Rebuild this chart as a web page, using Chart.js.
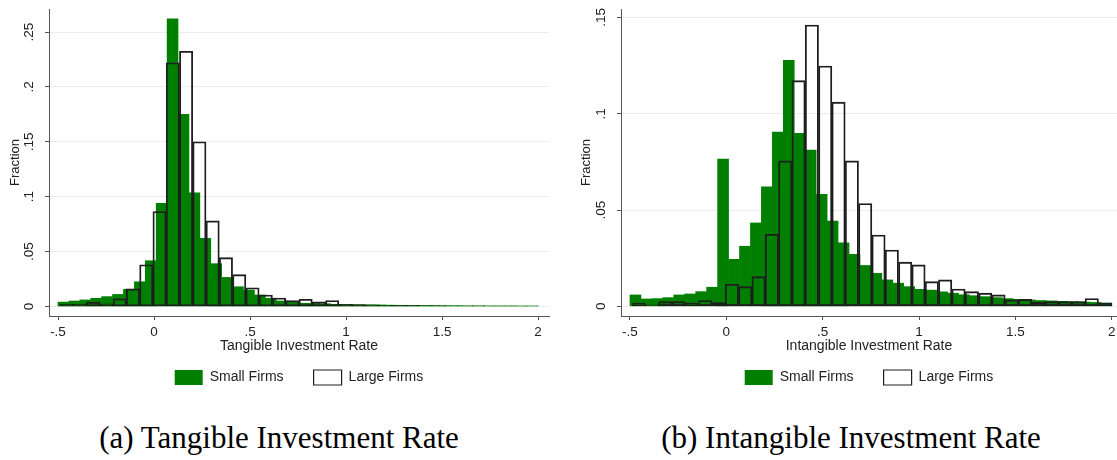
<!DOCTYPE html>
<html>
<head>
<meta charset="utf-8">
<script src="https://cdn.jsdelivr.net/npm/chart.js@4.4.1/dist/chart.umd.min.js"></script>
<style>
  html, body { margin: 0; padding: 0; background: #fff; }
  body { width: 1117px; height: 460px; position: relative; overflow: hidden; }
  canvas { position: absolute; top: 0; }
  #chartA { left: 0; }
  #chartB { left: 571px; }
  .caption {
    position: absolute; top: 422px;
    font-family: "Liberation Serif", serif; font-size: 31px; line-height: 31px;
    color: #000; white-space: nowrap; transform: translateX(-50%);
  }
</style>
</head>
<body>
<canvas id="chartA" width="553" height="395"></canvas>
<canvas id="chartB" width="546" height="395"></canvas>
<div class="caption" style="left:279px">(a) Tangible Investment Rate</div>
<div class="caption" style="left:851px">(b) Intangible Investment Rate</div>

<script>
// series
const seriesNames = ["Small Firms", "Large Firms"];

// histogram bins (each group has its own bins)
const smallBinStart = -0.5, smallBinCount = 44, smallBinWidth = 2.5 / 44;
const largeBinStart = -0.49, largeBinCount = 36, largeBinWidth = 2.49 / 36;

// fractions
const tangibleSmall = [
  0.004, 0.005, 0.006, 0.0075, 0.009, 0.011, 0.0157, 0.0225, 0.0417, 0.094,
  0.262, 0.175, 0.1035, 0.062, 0.039, 0.0265, 0.018, 0.015, 0.0105, 0.0075,
  0.005, 0.0045, 0.003, 0.0028, 0.0025, 0.002, 0.0018, 0.0016, 0.0015, 0.0014,
  0.0012, 0.0011, 0.001, 0.001, 0.0009, 0.0008, 0.0008, 0.0007, 0.0007, 0.0006,
  0.0006, 0.0006, 0.0005, 0.0005
];
const tangibleLarge = [
  0.002, 0.002, 0.004, 0.0025, 0.007, 0.016, 0.038, 0.0865, 0.222, 0.2325,
  0.15, 0.078, 0.0445, 0.029, 0.017, 0.0105, 0.0077, 0.0055, 0.0066, 0.0042,
  0.0054, 0.002, 0.0018, 0.0015, 0.0012, 0.001, 0.001, 0.0008, 0.0008, 0.0006,
  0, 0.0006, 0, 0.0005, 0.0005, 0.0005
];
const intangibleSmall = [
  0.0059, 0.0038, 0.004, 0.0045, 0.0059, 0.0064, 0.0076, 0.0099, 0.0764, 0.0244,
  0.0312, 0.0433, 0.0621, 0.0905, 0.1278, 0.0898, 0.0811, 0.0582, 0.0443, 0.033,
  0.027, 0.0212, 0.0171, 0.0137, 0.012, 0.0102, 0.0088, 0.0084, 0.0075, 0.0068,
  0.006, 0.0055, 0.005, 0.0045, 0.004, 0.0036, 0.0033, 0.003, 0.0028, 0.0026,
  0.0024, 0.0022, 0.002, 0.0017
];
const intangibleLarge = [
  0.0016, 0.0007, 0.0024, 0.0024, 0.0016, 0.003, 0.0019, 0.0114, 0.0102, 0.0154,
  0.0374, 0.0755, 0.1172, 0.1461, 0.1248, 0.106, 0.0755, 0.0534, 0.037, 0.0292,
  0.0229, 0.0215, 0.0128, 0.0137, 0.009, 0.0076, 0.0068, 0.0059, 0.0033, 0.0036,
  0.002, 0.0024, 0.0024, 0.0024, 0.004, 0.0017
];

// axis ticks
const xTicks = [-0.5, 0, 0.5, 1, 1.5, 2];
const xTickLabels = ["-.5", "0", ".5", "1", "1.5", "2"];
const tangibleYTicks = [0, 0.05, 0.1, 0.15, 0.2, 0.25];
const tangibleYLabels = ["0", ".05", ".1", ".15", ".2", ".25"];
const intangibleYTicks = [0, 0.05, 0.1, 0.15];
const intangibleYLabels = ["0", ".05", ".1", ".15"];

const SANS = "Liberation Sans";
const GREEN = "#007f00";
const AXIS = "#555";

function binCenters(start, width, n) {
  return Array.from({ length: n }, (_, i) => start + (i + 0.5) * width);
}

function makeHist(canvasId, opt) {
  const cs = binCenters(smallBinStart, smallBinWidth, smallBinCount);
  const cl = binCenters(largeBinStart, largeBinWidth, largeBinCount);
  const setX = s => { s.ticks = xTicks.map(v => ({ value: v })); };

  new Chart(document.getElementById(canvasId), {
    type: "bar",
    data: {
      datasets: [
        {
          label: seriesNames[0],
          data: opt.small.map((v, i) => ({ x: cs[i], y: v })),
          xAxisID: "x",
          backgroundColor: GREEN,
          borderWidth: 0,
          order: 1
        },
        {
          label: seriesNames[1],
          data: opt.large.map((v, i) => ({ x: cl[i], y: v })),
          xAxisID: "x2",
          backgroundColor: "rgba(0,0,0,0)",
          borderColor: "#1e1e1e",
          borderWidth: 1.2,
          borderSkipped: false,
          order: 0
        }
      ]
    },
    options: {
      responsive: false,
      animation: false,
      devicePixelRatio: 1,
      datasets: { bar: { barPercentage: 1, categoryPercentage: 1, grouped: false } },
      layout: { padding: { top: 9, right: opt.padRight, left: 0, bottom: 0 } },
      scales: {
        x: {
          type: "linear", min: opt.xMin, max: opt.xMax, offset: false,
          afterBuildTicks: setX,
          afterFit: s => { s.height = 24; s.paddingLeft = 0; s.paddingRight = 0; },
          ticks: {
            autoSkip: false, maxRotation: 0, minRotation: 0, padding: 4,
            color: "#222", font: { family: SANS, size: 13.5 },
            callback: v => xTickLabels[xTicks.indexOf(v)]
          },
          grid: { drawOnChartArea: false, tickLength: 4, tickColor: AXIS, offset: false },
          border: { color: AXIS, width: 1 },
          title: {
            display: true, text: opt.xTitle, color: "#222",
            font: { family: SANS, size: 14 }, padding: { top: 0, bottom: -14.4 }
          }
        },
        x2: {
          type: "linear", display: false, min: opt.xMin, max: opt.xMax, offset: false,
          afterBuildTicks: setX
        },
        y: {
          type: "linear", min: opt.yMin, max: opt.yMax,
          afterBuildTicks: s => { s.ticks = opt.yTicks.map(v => ({ value: v })); },
          afterFit: s => { s.width = opt.yWidth; s.paddingTop = 0; s.paddingBottom = 0; },
          ticks: {
            minRotation: 90, maxRotation: 90, crossAlign: "center", padding: 6,
            color: "#222", font: { family: SANS, size: 13.5 },
            callback: v => opt.yLabels[opt.yTicks.indexOf(v)]
          },
          grid: { color: "#ececec", tickColor: AXIS, tickLength: 4 },
          border: { color: AXIS, width: 1 },
          title: {
            display: true, text: "Fraction", color: "#222",
            font: { family: SANS, size: 13 }, padding: { top: 8, bottom: 0 }
          }
        }
      },
      plugins: {
        tooltip: { enabled: false },
        legend: {
          position: "bottom",
          fullSize: false,
          labels: {
            boxWidth: 28, boxHeight: 15, padding: 30,
            color: "#222", font: { family: SANS, size: 14 },
            sort: (a, b) => a.datasetIndex - b.datasetIndex
          }
        }
      }
    }
  });
}

makeHist("chartA", {
  small: tangibleSmall, large: tangibleLarge,
  xMin: -0.5469, xMax: 2.057, yMin: -0.00865, yMax: 0.271,
  yTicks: tangibleYTicks, yLabels: tangibleYLabels,
  xTitle: "Tangible Investment Rate", yWidth: 49, padRight: 4
});

makeHist("chartB", {
  small: intangibleSmall, large: intangibleLarge,
  xMin: -0.5467, xMax: 2.027, yMin: -0.00504, yMax: 0.1544,
  yTicks: intangibleYTicks, yLabels: intangibleYLabels,
  xTitle: "Intangible Investment Rate", yWidth: 50, padRight: 0
});
</script>
</body>
</html>
